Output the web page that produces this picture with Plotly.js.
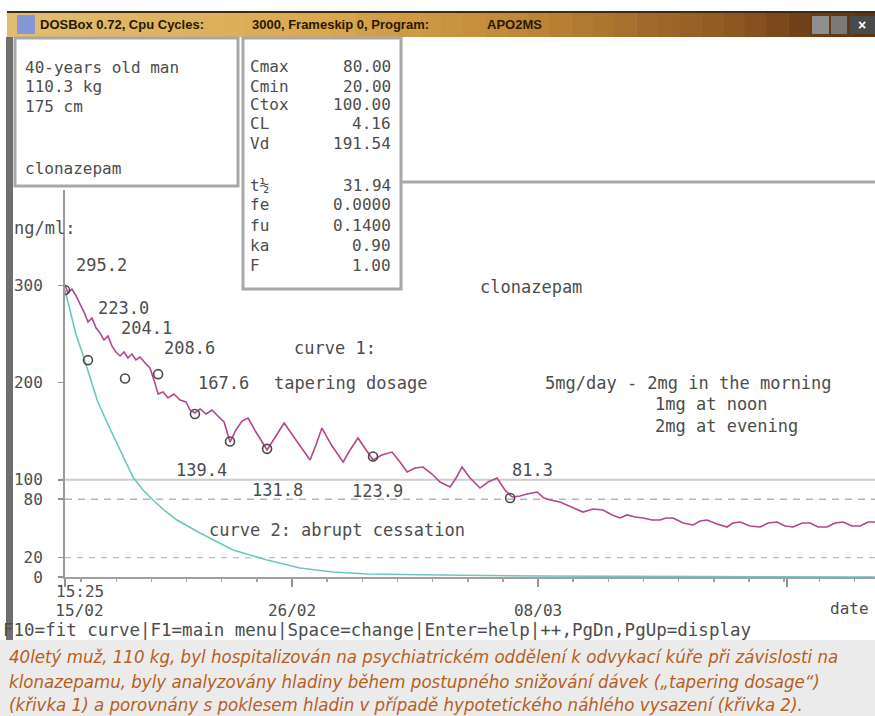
<!DOCTYPE html>
<html>
<head>
<meta charset="utf-8">
<script src="https://cdn.plot.ly/plotly-3.0.1.min.js"></script>
<style>html,body{margin:0;padding:0;background:#fff;}#chart{width:875px;height:716px;}</style>
</head>
<body>
<div id="chart"></div>
<script>
// ---------------- DATA ----------------
// curve 1: tapering dosage (days from start, ng/ml)
const curve1Days = [0,0.12,0.28,0.45,0.61,0.77,0.93,1.09,1.26,1.42,1.58,1.74,1.90,2.06,2.23,2.39,2.55,2.71,2.87,3.04,3.28,3.44,3.60,3.77,3.97,4.17,4.41,4.66,4.90,5.06,5.26,5.47,5.71,5.95,6.19,6.44,6.68,6.92,7.17,7.41,7.73,8.18,8.54,8.87,9.35,9.92,10.16,10.40,10.81,11.26,11.54,11.86,12.19,12.47,12.83,13.24,13.56,13.85,14.17,14.49,14.86,15.18,15.59,15.83,16.07,16.40,16.80,17.13,17.49,17.81,18.10,18.42,18.70,19.11,19.39,19.64,20.04,20.53,20.97,21.38,21.78,22.15,22.47,22.75,23.08,23.40,23.77,24.09,24.33,24.62,25.02,25.43,25.71,25.99,26.40,26.80,27.04,27.33,27.73,28.14,28.46,28.83,29.15,29.47,29.84,30.16,30.49,30.85,31.17,31.50,31.86,32.19,32.51,32.79];
const curve1Conc = [300.3,292.1,296.2,289.0,280.7,272.5,262.2,266.4,256.1,250.9,243.7,247.8,237.6,231.4,227.3,231.4,225.2,229.3,223.2,226.2,219.0,214.9,202.6,188.2,190.3,184.1,188.2,182.0,180.0,171.7,168.7,172.8,167.6,171.7,165.6,159.4,138.8,151.2,160.4,163.5,149.1,130.6,145.0,158.4,140.9,120.3,135.7,153.2,134.7,118.3,130.6,142.9,130.6,120.3,125.5,128.5,118.3,108.0,112.1,113.1,105.9,97.7,92.6,101.8,113.1,101.8,91.5,97.7,101.8,89.5,82.3,83.3,85.4,87.4,81.2,79.2,77.1,72.0,66.8,69.9,68.9,63.8,60.7,63.8,61.7,60.7,58.6,58.6,60.7,60.7,55.5,53.5,57.6,58.6,54.5,51.4,55.5,56.6,52.4,51.4,55.5,56.6,52.4,51.4,55.5,55.5,51.4,51.4,55.5,56.6,52.4,52.4,56.6,56.6];
// curve 2: abrupt cessation
const curve2Days = [0,0.20,0.45,0.73,1.01,1.30,1.62,1.94,2.35,2.75,3.16,3.56,4.05,4.53,5.47,6.80,8.18,9.51,10.85,12.23,15.18,19.23,25.71,32.79];
const curve2Conc = [295.1,274.6,248.9,228.3,204.6,182.0,163.5,146.0,123.4,102.8,89.5,79.2,67.9,58.6,45.2,27.8,17.5,9.3,5.1,3.1,2.1,1.0,0.5,0.0];
// measured levels
const measuredDays = [0,0.93,2.43,3.77,5.26,6.68,8.18,12.47,18.02];
const measuredConc = [295.2,223.0,204.1,208.6,167.6,139.4,131.8,123.9,81.3];
// limits
const limitNames = ['Cmax','Cmin','Ctox'];
const limitValues = [80, 20, 100];
// axes
const yTickVals = [0, 20, 80, 100, 200, 300];
const yTickText = ['0', '20', '80', '100', '200', '300'];
const xTickVals = [0, 9.19, 19.15, 29.23];
const xTickText = ['\u00a0\u00a0\u00a015/02', '26/02', '08/03', ''];
// parameter panel
const paramNames = ['Cmax','Cmin','Ctox','CL','Vd','t\u00bd','fe','fu','ka','F'];
const paramValues = ['80.00','20.00','100.00','4.16','191.54','31.94','0.0000','0.1400','0.90','1.00'];
const patientLines = ['40-years old man','110.3 kg','175 cm'];
const drugName = 'clonazepam';
const captionLines = [
  '40letý muž, 110 kg, byl hospitalizován na psychiatrickém oddělení k odvykací kúře při závislosti na',
  'klonazepamu, byly analyzovány hladiny během postupného snižování dávek („tapering dosage“)',
  '(křivka 1) a porovnány s poklesem hladin v případě hypotetického náhlého vysazení (křivka 2).'
];

// ---------------- LAYOUT HELPERS ----------------
const W = 875, H = 716, ML = 65, MR = 0, MT = 190, MB = 139;
const PW = W - ML - MR, PH = H - MT - MB;
const PX = x => (x - ML) / PW;
const PY = y => (H - MB - y) / PH;
const MONO = 'DejaVu Sans Mono, Liberation Mono, monospace';
const TXT = '#4d4d4d';
const FS = 17;      // plot texts
const FSB = 16;     // boxes, axis labels

const shapes = [];
const annotations = [];
function rect(x0, y0, x1, y1, fill, line, lw, layer) {
  shapes.push({type:'rect', xref:'paper', yref:'paper', x0:PX(x0), x1:PX(x1), y0:PY(y1), y1:PY(y0),
    fillcolor: fill, line:{color: line || fill, width: lw === undefined ? 0 : lw}, layer: layer || 'above'});
}
function hline(x0, x1, y, color, w, dash, layer) {
  shapes.push({type:'line', xref:'paper', yref:'paper', x0:PX(x0), x1:PX(x1), y0:PY(y), y1:PY(y),
    line:{color:color, width:w, dash: dash || 'solid'}, layer: layer || 'above'});
}
function txt(x, y, s, opts) {
  annotations.push(Object.assign({xref:'paper', yref:'paper', x:PX(x), y:PY(y), text:s, showarrow:false,
    xanchor:'left', yanchor:'middle', font:{family:MONO, size:FS, color:TXT}}, opts || {}));
}
const boxFont = {family:MONO, size:FSB, color:TXT};

// caption background
rect(0, 640, 875, 716, '#ebebeb');
// left dark bar
rect(6, 37, 13, 640, '#6e6e6e');

// title bar gradient
const stops = [[0,[226,189,114]],[0.35,[218,170,80]],[0.6,[192,134,54]],[0.85,[138,84,32]],[0.93,[106,60,20]],[1,[90,52,16]]];
function gcol(f) {
  for (let i = 1; i < stops.length; i++) {
    if (f <= stops[i][0]) {
      const a = stops[i-1], b = stops[i], u = (f - a[0]) / (b[0] - a[0]);
      const c = a[1].map((v, k) => Math.round(v + (b[1][k] - v) * u));
      return 'rgb(' + c.join(',') + ')';
    }
  }
  return 'rgb(90,52,16)';
}
const NS = 40, TX0 = 7, TX1 = 875;
for (let i = 0; i < NS; i++) {
  const a = TX0 + (TX1 - TX0) * i / NS, b = TX0 + (TX1 - TX0) * (i + 1) / NS + 0.5;
  rect(a, 13, b, 37, gcol((i + 0.5) / NS));
}
hline(7, 875, 12, '#3a2a18', 2);
rect(17, 15, 35, 34, '#8797d6');
rect(812, 16, 829, 34, '#8e8e8e');
rect(831, 16, 847, 34, '#7a7a7a');
rect(850, 16, 875, 34, '#4a4a4a');
const titleFont = {family:'Liberation Sans, Arial, sans-serif', size:13, color:'#2a1a05', weight:'bold'};
txt(38, 25, 'DOSBox 0.72, Cpu Cycles:', {font:titleFont});
txt(250, 25, '3000, Frameskip 0, Program:', {font:titleFont});
txt(485, 25, 'APO2MS', {font:titleFont});
txt(862, 25, '×', {xanchor:'center', font:{family:'Liberation Sans, Arial, sans-serif', size:14, color:'#ffffff', weight:'bold'}});

// separator line above plot
hline(402, 875, 182, '#a8a8a8', 3);

// patient box
rect(15, 38, 238, 186, '#ffffff', '#a8a8a8', 3);
const patientY = [67, 87, 107];
patientLines.forEach((s, i) => txt(23, patientY[i], s, {font:boxFont}));
txt(23, 168, drugName, {font:boxFont});

// parameter box
rect(243, 38, 401, 289, '#ffffff', '#a8a8a8', 3);
const paramY = [66, 86, 105, 124, 143, 185, 205, 225, 245, 265];
paramNames.forEach((s, i) => {
  txt(248, paramY[i], s, {font:boxFont});
  txt(393, paramY[i], paramValues[i], {xanchor:'right', font:boxFont});
});

// limit lines (data coordinates)
const limitStyle = {Cmax:{color:'#b4b4b4', width:1.6, dash:'7px,6px'}, Cmin:{color:'#bdbdbd', width:1.3, dash:'6px,6px'}, Ctox:{color:'#cdcdcd', width:2, dash:'solid'}};
limitNames.forEach((n, i) => {
  shapes.push({type:'line', xref:'paper', yref:'y', x0: n === 'Ctox' ? PX(59) : 0, x1:1, y0:limitValues[i], y1:limitValues[i],
    line: limitStyle[n], layer:'below'});
});

// plot texts
txt(12, 228, 'ng/ml:');
txt(478, 287, drugName);
txt(292, 348, 'curve 1:');
txt(272, 383, 'tapering dosage');
txt(543, 383, '5mg/day - 2mg in the morning');
txt(653, 404, '1mg at noon');
txt(653, 426, '2mg at evening');
txt(207, 530, 'curve 2: abrupt cessation');
txt(54, 591, '15:25', {font:boxFont});
txt(828, 608, 'date', {font:boxFont});
txt(1, 630, 'F10=fit curve|F1=main menu|Space=change|Enter=help|++,PgDn,PgUp=display', {font:{family:MONO, size:17.5, color:TXT}});

// measured value labels
const labelOffsets = [[36,-25],[36,-52],[21,-51],[31,-26],[29,-31],[-29,29],[10,41],[4,34],[22,-28]];
measuredDays.forEach((d, i) => {
  annotations.push({xref:'x', yref:'y', x:d, y:measuredConc[i], text:measuredConc[i].toFixed(1), showarrow:false,
    xanchor:'center', yanchor:'middle', xshift:labelOffsets[i][0], yshift:-labelOffsets[i][1],
    font:{family:MONO, size:FS, color:TXT}});
});

// caption
const capY = [656, 681, 704];
captionLines.forEach((s, i) => txt(7, capY[i], s, {font:{family:'Liberation Sans Narrow, DejaVu Sans Condensed, Liberation Sans, sans-serif', size:18.5, color:'#b5601f', style:'italic'}}));

// ---------------- TRACES ----------------
const traces = [
  {x: curve2Days, y: curve2Conc, type:'scatter', mode:'lines', line:{color:'#6cc7bf', width:1.6}, hoverinfo:'skip'},
  {x: curve1Days, y: curve1Conc, type:'scatter', mode:'lines', line:{color:'#b5458c', width:1.6}, hoverinfo:'skip'},
  {x: measuredDays, y: measuredConc, type:'scatter', mode:'markers', marker:{symbol:'circle-open', size:9, color:'#4a4a4a', line:{width:1.6}}, hoverinfo:'skip'}
];

const layout = {
  width: W, height: H,
  margin: {l: ML, r: MR, t: MT, b: MB, pad: 0},
  paper_bgcolor: '#ffffff', plot_bgcolor: '#ffffff',
  showlegend: false,
  xaxis: {range: [0, 32.79], tickmode:'array', tickvals: xTickVals, ticktext: xTickText,
    showgrid:false, zeroline:false, showline:true, linecolor:'#a0a0a0', linewidth:2,
    ticks:'outside', ticklen:8, tickwidth:1.5, tickcolor:'#909090', ticklabelstandoff: 10,
    minor:{dtick:1.423, tick0:9.19, ticks:'outside', ticklen:3, tickcolor:'#a0a0a0', tickwidth:1.5, showgrid:false},
    tickfont:{family:MONO, size:FSB, color:TXT}, fixedrange:true},
  yaxis: {range: [0, 398], tickmode:'array', tickvals: yTickVals, ticktext: yTickText,
    showgrid:false, zeroline:false, showline:true, linecolor:'#9a9a9a', linewidth:2,
    ticks:'outside', ticklen:5, tickwidth:1.5, tickcolor:'#909090', ticklabelstandoff: 12,
    tickfont:{family:MONO, size:FSB, color:TXT}, fixedrange:true},
  shapes: shapes,
  annotations: annotations
};

Plotly.newPlot('chart', traces, layout, {staticPlot:true, displayModeBar:false});
</script>
</body>
</html>
